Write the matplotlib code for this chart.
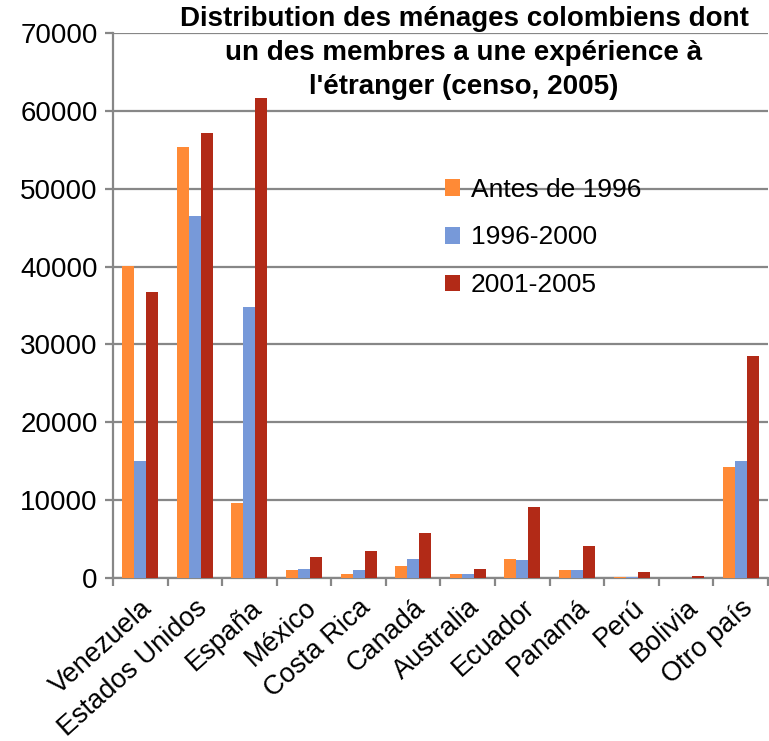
import numpy as np
import matplotlib
matplotlib.use("Agg")
from matplotlib import pyplot as plt

plt.rcParams['font.family'] = ['Liberation Sans', 'DejaVu Sans']

# data
pays = ["Venezuela", "Estados Unidos", "España", "México", "Costa Rica", "Canadá",
        "Australia", "Ecuador", "Panamá", "Perú", "Bolivia", "Otro país"]
antes_1996 = [40100, 55300, 9650, 1050, 450, 1600, 450, 2450, 1050, 180, 50, 14200]
p_1996_2000 = [15050, 46550, 34800, 1120, 1050, 2480, 450, 2250, 1050, 150, 50, 15050]
p_2001_2005 = [36750, 57150, 61650, 2750, 3500, 5800, 1120, 9150, 4050, 820, 320, 28450]
series_names = ["Antes de 1996", "1996-2000", "2001-2005"]
colors = ["#FF8A36", "#7799D9", "#B22A17"]

grid_c = "#878787"

fig = plt.figure(figsize=(7.69, 7.41), dpi=100)
ax = fig.add_axes([113/769, 1 - 578/741, 655/769, 545/741])

x = np.arange(len(pays))
w = 0.22
for i, vals in enumerate([antes_1996, p_1996_2000, p_2001_2005]):
    ax.bar(x + (i - 1) * w, vals, width=w, color=colors[i], label=series_names[i],
           zorder=3, edgecolor="none")

ax.set_xlim(-0.5, len(pays) - 0.5)
ax.set_ylim(0, 70000)
ax.set_yticks(range(0, 70001, 10000))
ax.yaxis.grid(True, color=grid_c, linewidth=1.6, zorder=0)
ax.set_axisbelow(True)

for s in ["top", "right"]:
    ax.spines[s].set_visible(False)
for s in ["left", "bottom"]:
    ax.spines[s].set_color(grid_c)
    ax.spines[s].set_linewidth(1.6)

ax.tick_params(axis="y", labelsize=20, length=6, width=1.6, color=grid_c, pad=5)
ax.set_xticks(x)
ax.set_xticklabels(pays, rotation=42, ha="right", rotation_mode="anchor", fontsize=19.5)
ax.tick_params(axis="x", which="major", length=0, pad=12)
ax.set_xticks(np.arange(-0.5, len(pays), 1), minor=True)
ax.tick_params(axis="x", which="minor", length=6, width=1.6, color=grid_c)

fig.text(464/769, 1 - 6/741,
         "Distribution des ménages colombiens dont\nun des membres a une expérience à\nl'étranger (censo, 2005)",
         ha="center", va="top", fontsize=20, fontweight="bold", linespacing=1.4)

ax.legend(loc="upper left", bbox_to_anchor=(0.47, 0.778), frameon=False, fontsize=19,
          handlelength=0.6, handleheight=0.6, handletextpad=0.4, labelspacing=0.9)

fig.savefig("out.png", dpi=100)
